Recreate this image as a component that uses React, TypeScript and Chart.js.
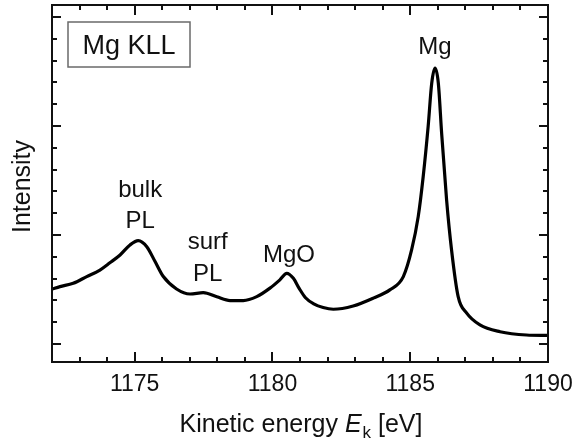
import { useEffect, useRef } from "react";
import { Chart, registerables } from "chart.js";

Chart.register(...registerables);

// Mg KLL Auger spectrum: kinetic energy (eV) and intensity (arb. units)
const energy = [
  1172.0, 1172.29, 1172.77, 1173.26, 1173.74, 1174.1, 1174.47, 1174.83, 1175.13,
  1175.44, 1175.74, 1176.04, 1176.52, 1177.01, 1177.49, 1177.98, 1178.46, 1178.94,
  1179.43, 1179.91, 1180.27, 1180.52, 1180.76, 1180.97, 1181.2, 1181.5,
  1181.84, 1182.21, 1182.93, 1183.66, 1184.26, 1184.75, 1185.05, 1185.29, 1185.47,
  1185.65, 1185.78, 1185.9, 1186.02, 1186.14, 1186.32, 1186.5, 1186.74, 1187.05,
  1187.53, 1188.26, 1189.22, 1190.0,
];
const intensity = [
  2.52, 2.63, 2.78, 3.09, 3.39, 3.72, 4.08, 4.54, 4.74,
  4.46, 3.78, 3.09, 2.52, 2.29, 2.35, 2.16, 1.99, 1.99,
  2.17, 2.56, 2.94, 3.24, 3.01, 2.55, 2.12, 1.84,
  1.67, 1.59, 1.74, 2.1, 2.48, 3.09, 4.31, 5.84, 7.67,
  9.97, 11.96, 12.65, 11.96, 9.67, 6.61, 4.31, 2.17, 1.41,
  0.87, 0.56, 0.41, 0.39,
];

const xMin = 1172;
const xMax = 1190;
const xTickLabels = [1175, 1180, 1185, 1190];
const yMin = -0.83;
const yMax = 15.55;

const panelTitle = "Mg KLL";
const yTitle = "Intensity";
const peakNames = [["bulk", "PL"], ["surf", "PL"], ["MgO"], ["Mg"]];

const FONT = '"Liberation Sans", Arial, Helvetica, sans-serif';

const framePlugin = {
  id: "spectrumFrame",
  afterDraw(chart: any) {
    const ctx: CanvasRenderingContext2D = chart.ctx;
    const { left, right, top, bottom } = chart.chartArea;
    const xs = chart.scales.x;
    const ys = chart.scales.y;
    ctx.save();
    ctx.strokeStyle = "#111";
    ctx.fillStyle = "#111";
    ctx.lineWidth = 2;
    ctx.strokeRect(left, top, right - left, bottom - top);

    // inward tick marks on all four sides
    ctx.beginPath();
    for (let e = xMin + 1; e < xMax; e++) {
      const px = Math.round(xs.getPixelForValue(e));
      const len = e % 5 === 0 ? 10 : 5;
      ctx.moveTo(px, bottom);
      ctx.lineTo(px, bottom - len);
      ctx.moveTo(px, top);
      ctx.lineTo(px, top + len);
    }
    for (let v = 0; v <= 15; v++) {
      const py = Math.round(ys.getPixelForValue(v));
      const len = v % 5 === 0 ? 9 : 5;
      ctx.moveTo(left, py);
      ctx.lineTo(left + len, py);
      ctx.moveTo(right, py);
      ctx.lineTo(right - len, py);
    }
    ctx.stroke();

    // x tick labels
    ctx.font = `23px ${FONT}`;
    ctx.textAlign = "center";
    ctx.textBaseline = "alphabetic";
    for (const t of xTickLabels) {
      ctx.fillText(String(t), xs.getPixelForValue(t), bottom + 29);
    }

    // x axis title with italic E and subscript k
    const cx = (left + right) / 2 + 1;
    const base = bottom + 70;
    const p1 = "Kinetic energy ";
    const p3 = " [eV]";
    ctx.font = `25px ${FONT}`;
    const w1 = ctx.measureText(p1).width;
    const w3 = ctx.measureText(p3).width;
    ctx.font = `italic 25px ${FONT}`;
    const wE = ctx.measureText("E").width;
    ctx.font = `17px ${FONT}`;
    const wk = ctx.measureText("k").width;
    const total = w1 + wE + 1 + wk + w3;
    let x0 = cx - total / 2;
    ctx.textAlign = "left";
    ctx.font = `25px ${FONT}`;
    ctx.fillText(p1, x0, base);
    x0 += w1;
    ctx.font = `italic 25px ${FONT}`;
    ctx.fillText("E", x0, base);
    x0 += wE + 1;
    ctx.font = `17px ${FONT}`;
    ctx.fillText("k", x0, base + 6);
    x0 += wk;
    ctx.font = `25px ${FONT}`;
    ctx.fillText(p3, x0, base);

    // y axis title
    ctx.save();
    ctx.translate(30, (top + bottom) / 2 + 3);
    ctx.rotate(-Math.PI / 2);
    ctx.textAlign = "center";
    ctx.font = `25px ${FONT}`;
    ctx.fillText(yTitle, 0, 0);
    ctx.restore();

    // panel label box
    ctx.lineWidth = 1.5;
    ctx.strokeStyle = "#6a6a6a";
    ctx.strokeRect(68, 22, 122, 45);
    ctx.font = `27px ${FONT}`;
    ctx.textAlign = "center";
    ctx.fillText(panelTitle, 129, 54);

    // peak annotations, anchored in data coordinates
    const anchors = [
      { e: 1175.2, v: 6.76 },
      { e: 1177.65, v: 4.35 },
      { e: 1180.6, v: 3.75 },
      { e: 1185.9, v: 13.3 },
    ];
    ctx.font = `24px ${FONT}`;
    peakNames.forEach((lines, i) => {
      const ax = xs.getPixelForValue(anchors[i].e);
      const ay = ys.getPixelForValue(anchors[i].v);
      lines.forEach((ln, j) => {
        ctx.fillText(ln, ax, ay + j * 31.5);
      });
    });
    ctx.restore();
  },
};

export default function App() {
  const ref = useRef<HTMLCanvasElement | null>(null);

  useEffect(() => {
    if (!ref.current) return;
    const chart = new Chart(ref.current, {
      type: "line",
      data: {
        datasets: [
          {
            data: energy.map((e, i) => ({ x: e, y: intensity[i] })),
            borderColor: "#000",
            borderWidth: 3.2,
            pointRadius: 0,
            cubicInterpolationMode: "monotone",
            fill: false,
          },
        ],
      },
      options: {
        responsive: false,
        animation: false,
        devicePixelRatio: 1,
        layout: { padding: { left: 52, right: 27, top: 5, bottom: 84 } },
        plugins: { legend: { display: false }, tooltip: { enabled: false } },
        scales: {
          x: { type: "linear", min: xMin, max: xMax, display: false },
          y: { type: "linear", min: yMin, max: yMax, display: false },
        },
      },
      plugins: [framePlugin],
    });
    return () => chart.destroy();
  }, []);

  return (
    <div style={{ position: "fixed", left: 0, top: 0, width: 575, height: 446, background: "#fff" }}>
      <canvas ref={ref} width={575} height={446} />
    </div>
  );
}
